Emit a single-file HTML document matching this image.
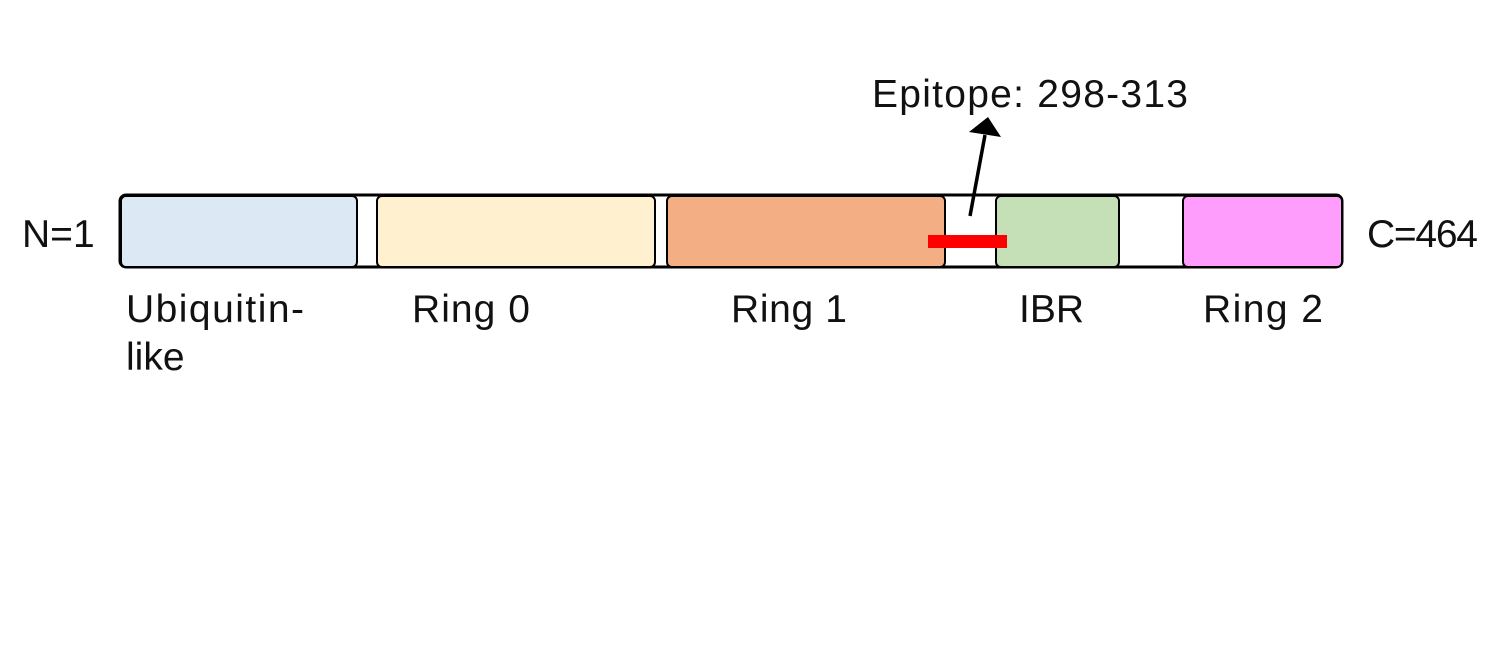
<!DOCTYPE html>
<html><head><meta charset="utf-8"><style>
html,body{margin:0;padding:0;background:#fff;}
body{width:1508px;height:642px;overflow:hidden;}
text{font-family:"Liberation Sans",sans-serif;font-size:39px;fill:#111;}
</style></head><body>
<svg width="1508" height="642" viewBox="0 0 1508 642" xmlns="http://www.w3.org/2000/svg">
<rect x="120" y="195" width="1222" height="72" rx="6" fill="#fff" stroke="#000" stroke-width="3"/>
<rect x="121" y="196" width="236" height="71" rx="5" fill="#dde8f5" stroke="#000" stroke-width="2"/>
<rect x="377" y="196" width="278" height="71" rx="5" fill="#fff1cf" stroke="#000" stroke-width="2"/>
<rect x="667" y="196" width="278" height="71" rx="5" fill="#f3af83" stroke="#000" stroke-width="2"/>
<rect x="996" y="196" width="123" height="71" rx="5" fill="#c5e0b6" stroke="#000" stroke-width="2"/>
<rect x="1183" y="196" width="159" height="71" rx="5" fill="#ff9dfd" stroke="#000" stroke-width="2"/>
<rect x="928" y="235" width="79" height="13" fill="#ff0000"/>
<line x1="970" y1="216" x2="985" y2="135" stroke="#000" stroke-width="3.5"/>
<polygon points="988,117 1001,137 969,132" fill="#000"/>
<text x="872" y="107" textLength="316">Epitope: 298-313</text>
<text x="22" y="247">N=1</text>
<text x="1367" y="247" textLength="111">C=464</text>
<text x="126" y="322" textLength="178">Ubiquitin-</text>
<text x="126" y="370">like</text>
<text x="412" y="322" textLength="118">Ring 0</text>
<text x="731" y="322" textLength="116">Ring 1</text>
<text x="1019" y="322">IBR</text>
<text x="1203" y="322" textLength="120">Ring 2</text>
</svg>
</body></html>
